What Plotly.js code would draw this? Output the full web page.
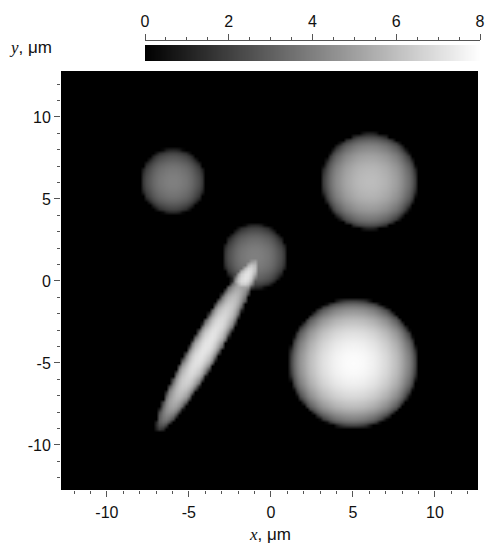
<!DOCTYPE html>
<html>
<head>
<meta charset="utf-8">
<script src="https://cdn.plot.ly/plotly-3.0.1.min.js"></script>
<style>html,body{margin:0;padding:0;background:#fff;}</style>
</head>
<body>
<div id="chart" style="width:485px;height:547px;"></div>
<script>
// Objects (µm)
const sphereX = [-6.0, -1.0, 6.0, 5.0];
const sphereY = [6.1, 1.5, 6.1, -5.0];
const sphereR = [2.0, 2.0, 2.95, 3.95];

const ellipseX = [-3.95];
const ellipseY = [-3.95];
const ellipseA = [6.0];
const ellipseB = [0.92];
const ellipseAngleDeg = [60];
const ellipsePeak = [7.2];

const colorTicks = [0, 2, 4, 6, 8];
const xTicks = [-10, -5, 0, 5, 10];
const yTicks = [-10, -5, 0, 5, 10];

// sampling grid
const gridStep = 0.2;
const gridMin = -12.8, gridMax = 12.8;
const gx = [];
for (let v = gridMin; v <= gridMax + 1e-9; v += gridStep) gx.push(+v.toFixed(3));
const gy = gx.slice();

const z = gy.map(y => gx.map(x => {
  let t = 0;
  for (let i = 0; i < sphereX.length; i++) {
    const d2 = (x - sphereX[i]) ** 2 + (y - sphereY[i]) ** 2;
    const r2 = sphereR[i] ** 2;
    if (d2 < r2) t += 2 * Math.sqrt(r2 - d2);
  }
  for (let i = 0; i < ellipseX.length; i++) {
    const th = ellipseAngleDeg[i] * Math.PI / 180;
    const dx = x - ellipseX[i], dy = y - ellipseY[i];
    const u = dx * Math.cos(th) + dy * Math.sin(th);
    const w = -dx * Math.sin(th) + dy * Math.cos(th);
    const q = (u / ellipseA[i]) ** 2 + (w / ellipseB[i]) ** 2;
    if (q < 1) t += ellipsePeak[i] * Math.sqrt(1 - q);
  }
  return t;
}));

// colour bar samples
const cbX = [];
for (let v = 0; v <= 8 + 1e-9; v += 0.05) cbX.push(+v.toFixed(3));
const cbZ = [cbX.slice(), cbX.slice()];

const grey = [[0, 'rgb(0,0,0)'], [1, 'rgb(255,255,255)']];
const W = 485, H = 547;
const px = v => v / W, py = v => 1 - v / H;

const tickFont = {family: 'Arial, "Liberation Sans", sans-serif', size: 16, color: '#111'};

const data = [
  {type: 'heatmap', x: gx, y: gy, z: z, zmin: 0, zmax: 8, colorscale: grey,
   zsmooth: 'best', showscale: false, hoverinfo: 'skip', xaxis: 'x', yaxis: 'y'},
  {type: 'heatmap', x: cbX, y: [0, 1], z: cbZ, zmin: 0, zmax: 8, colorscale: grey,
   zsmooth: 'best', showscale: false, hoverinfo: 'skip', xaxis: 'x2', yaxis: 'y2'}
];

const layout = {
  width: W, height: H,
  margin: {l: 0, r: 0, t: 0, b: 0},
  paper_bgcolor: '#fff', plot_bgcolor: '#fff',
  showlegend: false,
  xaxis: {
    domain: [px(61), px(478)], range: [-12.8, 12.63], anchor: 'y',
    tickmode: 'array', tickvals: xTicks, ticktext: xTicks.map(String),
    ticks: 'outside', ticklen: 6, tickwidth: 1, tickcolor: '#555',
    ticklabelstandoff: 2,
    minor: {dtick: 1, tick0: 0, ticks: 'outside', ticklen: 3, tickcolor: '#555'},
    showgrid: false, zeroline: false, showline: false,
    tickfont: tickFont, fixedrange: true
  },
  yaxis: {
    domain: [py(490), py(71)], range: [-12.75, 12.8], anchor: 'x',
    tickmode: 'array', tickvals: yTicks, ticktext: yTicks.map(String),
    ticks: 'outside', ticklen: 6, tickwidth: 1, tickcolor: '#555',
    minor: {dtick: 1, tick0: 0, ticks: 'outside', ticklen: 3, tickcolor: '#555'},
    showgrid: false, zeroline: false, showline: false,
    tickfont: tickFont, fixedrange: true
  },
  xaxis2: {
    domain: [px(145), px(480)], range: [0, 8], anchor: 'free', position: py(39.5),
    side: 'top',
    tickmode: 'array', tickvals: colorTicks, ticktext: colorTicks.map(String),
    ticks: 'outside', ticklen: 6, tickwidth: 1, tickcolor: '#555',
    minor: {dtick: 0.5, tick0: 0, ticks: 'outside', ticklen: 3, tickcolor: '#555'},
    showline: true, linecolor: '#555', linewidth: 1,
    showgrid: false, zeroline: false,
    tickfont: tickFont, fixedrange: true
  },
  yaxis2: {
    domain: [py(61), py(45)], range: [0, 1], anchor: 'x2',
    visible: false, fixedrange: true
  },
  annotations: [
    {xref: 'paper', yref: 'paper', x: px(270), y: py(534), xanchor: 'center', yanchor: 'middle',
     showarrow: false,
     text: '<span style="font-family:\'Liberation Serif\',\'Times New Roman\',serif"><i>x</i></span>, μm',
     font: {family: 'Arial, "Liberation Sans", sans-serif', size: 17, color: '#111'}},
    {xref: 'paper', yref: 'paper', x: px(31), y: py(48), xanchor: 'center', yanchor: 'middle',
     showarrow: false,
     text: '<span style="font-family:\'Liberation Serif\',\'Times New Roman\',serif"><i>y</i></span>, μm',
     font: {family: 'Arial, "Liberation Sans", sans-serif', size: 17, color: '#111'}}
  ]
};

Plotly.newPlot('chart', data, layout, {displayModeBar: false, staticPlot: true});
</script>
</body>
</html>
